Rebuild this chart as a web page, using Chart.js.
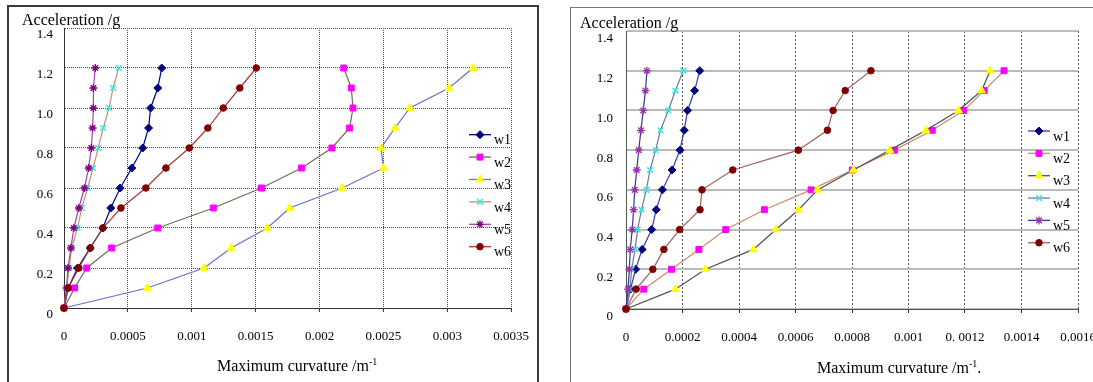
<!DOCTYPE html>
<html><head><meta charset="utf-8">
<script src="https://cdn.jsdelivr.net/npm/chart.js@4"></script>
<style>
html,body{margin:0;padding:0;background:#fff;overflow:hidden;width:1093px;height:382px;}
#wrap{position:relative;width:1093px;height:382px;overflow:hidden;background:#fff;}
.panel{position:absolute;box-sizing:border-box;}
#p1{left:7px;top:5px;width:532px;height:420px;border:2px solid #3a3a3a;}
#p2{left:570px;top:7px;width:600px;height:420px;border:1px solid #777;}
canvas{position:absolute;top:0;}
#c1{left:0;}
#c2{left:546px;}
.t{position:absolute;font-family:"Liberation Serif",serif;font-size:16px;line-height:16px;color:#000;white-space:nowrap;}
.t sup{font-size:10px;line-height:0;vertical-align:6px;}
</style></head>
<body>
<div id="wrap">
  <div class="panel" id="p1"></div>
  <div class="panel" id="p2"></div>
  <canvas id="c1" width="546" height="382"></canvas>
  <canvas id="c2" width="600" height="382"></canvas>
  <div class="t" style="left:22px;top:12px;">Acceleration /g</div>
  <div class="t" style="left:580px;top:15px;">Acceleration /g</div>
  <div class="t" style="left:217px;top:358px;">Maximum curvature /m<sup>-1</sup></div>
  <div class="t" style="left:817px;top:360px;">Maximum curvature /m<sup>-1</sup>.</div>
</div>
<script>
// ---- data ----
const accel = [0, 0.1, 0.2, 0.3, 0.4, 0.5, 0.6, 0.7, 0.8, 0.9, 1.0, 1.1, 1.2];
const seriesNames = ['w1', 'w2', 'w3', 'w4', 'w5', 'w6'];

// left panel
const leftW1 = [0, 0.000033, 0.000106, 0.000205, 0.000304, 0.000366, 0.00044, 0.000531, 0.000616, 0.000662, 0.000678, 0.000734, 0.000765];
const leftW2 = [0, 0.000083, 0.000178, 0.000373, 0.000734, 0.001169, 0.001546, 0.00186, 0.002097, 0.002236, 0.002262, 0.002249, 0.00219];
const leftW3 = [0, 0.000652, 0.001097, 0.001308, 0.001592, 0.001767, 0.002179, 0.002501, 0.002481, 0.002591, 0.002707, 0.003014, 0.003202];
const leftW4 = [0, 0.00002, 0.00004, 0.00006, 0.000106, 0.000139, 0.000185, 0.000227, 0.000268, 0.000307, 0.000353, 0.000384, 0.000428];
const leftW5 = [0, 0.00002, 0.000031, 0.000054, 0.000077, 0.000116, 0.00016, 0.000193, 0.000214, 0.000224, 0.00023, 0.00023, 0.000245];
const leftW6 = [0, 0.000033, 0.000116, 0.000206, 0.000304, 0.000446, 0.000641, 0.000798, 0.000981, 0.001126, 0.001247, 0.001376, 0.001505];

// right panel
const rightW1 = [0, 0.000016, 0.000034, 0.000057, 0.000091, 0.000107, 0.000129, 0.000163, 0.000191, 0.000206, 0.000218, 0.000243, 0.000261];
const rightW2 = [0, 0.000063, 0.000161, 0.000258, 0.000353, 0.00049, 0.000655, 0.000801, 0.00095, 0.001084, 0.001195, 0.001268, 0.001338];
const rightW3 = [0, 0.000175, 0.000281, 0.000451, 0.000531, 0.000611, 0.000678, 0.000805, 0.000934, 0.001062, 0.001177, 0.001259, 0.001289];
const rightW4 = [0, 0.000014, 0.00002, 0.000032, 0.000041, 0.000055, 0.000072, 0.000085, 0.000105, 0.000122, 0.00015, 0.000175, 0.000203];
const rightW5 = [0, 0.000007, 0.000012, 0.000015, 0.000022, 0.000027, 0.000031, 0.000038, 0.000045, 0.000053, 0.000061, 0.000069, 0.000074];
const rightW6 = [0, 0.000036, 0.000095, 0.000134, 0.00019, 0.000262, 0.000269, 0.000378, 0.00061, 0.000713, 0.000733, 0.000776, 0.000867];

// ticks
const yTickValues = [0, 0.2, 0.4, 0.6, 0.8, 1.0, 1.2, 1.4];
const yTickLabels = ['0', '0.2', '0.4', '0.6', '0.8', '1.0', '1.2', '1.4'];
const leftXTickValues = [0, 0.0005, 0.001, 0.0015, 0.002, 0.0025, 0.003, 0.0035];
const leftXTickLabels = ['0', '0.0005', '0.001', '0.0015', '0.002', '0.0025', '0.003', '0.0035'];
const rightXTickValues = [0, 0.0002, 0.0004, 0.0006, 0.0008, 0.001, 0.0012, 0.0014, 0.0016];
const rightXTickLabels = ['0', '0.0002', '0.0004', '0.0006', '0.0008', '0.001', '0. 0012', '0.0014', '0.0016'];

// ---- styles ----
const markerStyles = ['rectRot', 'rect', 'triangle', 'crossRot', 'star', 'circle'];
const markerRadius = [4, 4.2, 4.5, 4, 4, 3.3];
const markerBorderW = [1, 1, 1, 1.5, 1.3, 1];
const leftMarkerColors = ['#000080', '#ff00ff', '#ffff00', '#33e6e6', '#800080', '#800000'];
const leftLineColors = ['#000080', '#6e6e50', '#6c6cd2', '#c8906c', '#a044b0', '#a03c3c'];
const rightMarkerColors = ['#000080', '#ff00ff', '#ffff00', '#33e6e6', '#9933aa', '#800000'];
const rightLineColors = ['#3c3ca0', '#d08a6a', '#505050', '#6a7a9a', '#3434a4', '#a06060'];

function makeDatasets(seriesList, lineColors, markerColors) {
  return seriesList.map((xs, i) => ({
    label: seriesNames[i],
    data: xs.map((x, k) => ({x: x, y: accel[k]})),
    showLine: true,
    borderColor: lineColors[i],
    borderWidth: 1.2,
    backgroundColor: markerColors[i],
    pointBackgroundColor: markerColors[i],
    pointBorderColor: markerColors[i],
    pointBorderWidth: markerBorderW[i],
    pointStyle: markerStyles[i],
    pointRadius: markerRadius[i],
    pointHoverRadius: markerRadius[i],
    tension: 0,
    clip: false,
    order: seriesList.length - 1 - i
  }));
}

const inlineLegend = {
  id: 'inlineLegend',
  afterDatasetsDraw(chart, args, o) {
    const ctx = chart.ctx;
    ctx.save();
    chart.data.datasets.forEach((ds, i) => {
      const y = o.y0 + i * o.dy;
      ctx.setLineDash([]);
      ctx.strokeStyle = ds.borderColor;
      ctx.lineWidth = 1.3;
      ctx.beginPath(); ctx.moveTo(o.x1, y); ctx.lineTo(o.x2, y); ctx.stroke();
      ctx.fillStyle = ds.pointBackgroundColor;
      ctx.strokeStyle = ds.pointBorderColor;
      ctx.lineWidth = ds.pointBorderWidth;
      Chart.helpers.drawPoint(ctx, {pointStyle: ds.pointStyle, radius: ds.pointRadius, rotation: 0, borderWidth: ds.pointBorderWidth}, (o.x1 + o.x2) / 2, y);
      ctx.fillStyle = '#000';
      ctx.font = o.font;
      ctx.textBaseline = 'middle';
      ctx.textAlign = 'left';
      ctx.fillText(ds.label, o.tx, y + o.tdy);
    });
    ctx.restore();
  }
};

const tickFont = {family: 'Liberation Serif', size: 13};

function makeOptions(c) {
  return {
    responsive: false,
    animation: false,
    events: [],
    layout: {padding: {left: 0, top: c.top, right: c.right, bottom: 0}},
    plugins: {legend: {display: false}, tooltip: {enabled: false}, inlineLegend: c.legend},
    scales: {
      x: {
        type: 'linear', min: 0, max: c.xmax,
        afterFit: s => { s.height = c.xh; },
        afterBuildTicks: s => { s.ticks = c.xvals.map(v => ({value: v})); },
        ticks: {callback: (v, i) => c.xlabels[i], font: tickFont, color: '#000', padding: 17, maxRotation: 0, minRotation: 0, autoSkip: false},
        grid: {color: c.xgrid, lineWidth: 1, drawTicks: true, tickLength: 4, tickColor: '#333', tickBorderDash: [], tickWidth: 1},
        border: {display: true, color: c.axisColor, width: 1, dash: c.xdash}
      },
      y: {
        type: 'linear', min: 0, max: 1.4,
        afterFit: s => { s.width = c.yw; },
        afterBuildTicks: s => { s.ticks = yTickValues.map(v => ({value: v})); },
        ticks: {callback: (v, i) => yTickLabels[i], font: tickFont, color: '#000', padding: c.ypad, labelOffset: c.yoff},
        grid: {color: c.ygrid, lineWidth: c.ygw, drawTicks: false},
        border: {display: true, color: c.axisColor, width: 1, dash: c.ydash}
      }
    }
  };
}

new Chart(document.getElementById('c1'), {
  type: 'scatter',
  data: {datasets: makeDatasets([leftW1, leftW2, leftW3, leftW4, leftW5, leftW6], leftLineColors, leftMarkerColors)},
  options: makeOptions({
    top: 28, right: 29, xh: 74, yw: 64, xmax: 0.0035,
    xvals: leftXTickValues, xlabels: leftXTickLabels,
    xgrid: '#4a4a4a', xdash: [1, 1], ygrid: '#4a4a4a', ydash: [1, 1], ygw: 1,
    axisColor: '#333', ypad: 11, yoff: 7,
    legend: {x1: 469, x2: 491, tx: 494, y0: 134.7, dy: 22.4, tdy: 6, font: '14px "Liberation Serif"'}
  }),
  plugins: [inlineLegend]
});

new Chart(document.getElementById('c2'), {
  type: 'scatter',
  data: {datasets: makeDatasets([rightW1, rightW2, rightW3, rightW4, rightW5, rightW6], rightLineColors, rightMarkerColors)},
  options: makeOptions({
    top: 31, right: 68, xh: 73, yw: 80, xmax: 0.0016,
    xvals: rightXTickValues, xlabels: rightXTickLabels,
    xgrid: '#555', xdash: [2, 2], ygrid: '#bbbbbb', ydash: [], ygw: 2,
    axisColor: '#555', ypad: 13, yoff: 8,
    legend: {x1: 482, x2: 504, tx: 507, y0: 131, dy: 22.35, tdy: 6, font: '14px "Liberation Serif"'}
  }),
  plugins: [inlineLegend]
});
</script>
</body></html>
